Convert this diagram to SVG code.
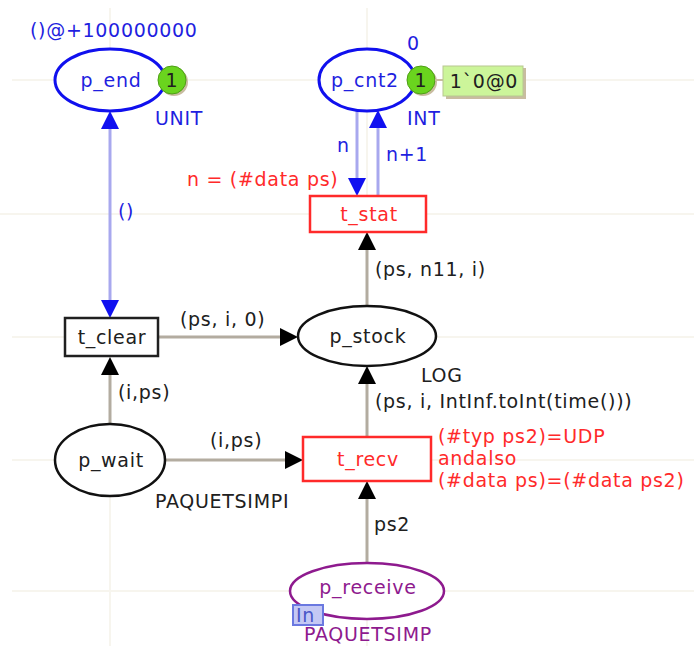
<svg xmlns="http://www.w3.org/2000/svg" width="694" height="646" viewBox="0 0 694 646">
<style>
text{font-family:"DejaVu Sans",Verdana,sans-serif;font-size:19px;letter-spacing:0.7px}
.blue{fill:#1f1fe0}
.red{fill:#ff2a2a}
.blk{fill:#202020}
.pur{fill:#8e1a8e}
.mid{text-anchor:middle}
.grid{stroke:#f7f5ee;stroke-width:2}
.arcb{stroke:#a8a8ee;stroke-width:3;fill:none}
.arcg{stroke:#b3aca0;stroke-width:3;fill:none}
.tok{fill:#6ad41e;stroke:#4e9e16;stroke-width:1}
.shadow{fill:#c9bca0}
</style>
<defs>
<marker id="ab" markerUnits="userSpaceOnUse" markerWidth="18" markerHeight="18" refX="8" refY="9" orient="auto-start-reverse" viewBox="0 0 18 18"><path d="M0,0 L18,9 L0,18 z" fill="#1010f0"/></marker>
<marker id="ak" markerUnits="userSpaceOnUse" markerWidth="18" markerHeight="18" refX="8" refY="9" orient="auto-start-reverse" viewBox="0 0 18 18"><path d="M0,0 L18,9 L0,18 z" fill="#000"/></marker>
</defs>
<rect width="694" height="646" fill="#fff"/>
<g id="grid">
<line class="grid" x1="12" y1="80" x2="694" y2="80"/>
<line class="grid" x1="0" y1="214" x2="694" y2="214"/>
<line class="grid" x1="12" y1="337" x2="694" y2="337"/>
<line class="grid" x1="12" y1="460" x2="694" y2="460"/>
<line class="grid" x1="12" y1="591" x2="694" y2="591"/>
<line class="grid" x1="110" y1="8" x2="110" y2="646"/>
<line class="grid" x1="367" y1="8" x2="367" y2="646"/>
</g>
<g id="connectors">
<line class="arcb" x1="110" y1="121" x2="110" y2="308" marker-start="url(#ab)" marker-end="url(#ab)"/>
<line class="arcb" x1="357" y1="110" x2="357" y2="186" marker-end="url(#ab)"/>
<line class="arcb" x1="378" y1="196" x2="378" y2="120" marker-end="url(#ab)"/>
<line class="arcg" x1="367" y1="306" x2="367" y2="242" marker-end="url(#ak)"/>
<line class="arcg" x1="158" y1="337" x2="288" y2="337" marker-end="url(#ak)"/>
<line class="arcg" x1="110" y1="424" x2="110" y2="367" marker-end="url(#ak)"/>
<line class="arcg" x1="166" y1="460" x2="293" y2="460" marker-end="url(#ak)"/>
<line class="arcg" x1="367" y1="437" x2="367" y2="376" marker-end="url(#ak)"/>
<line class="arcg" x1="367" y1="564" x2="367" y2="491" marker-end="url(#ak)"/>
<text class="blue" x="118" y="218">()</text>
<text class="blue" x="337" y="152">n</text>
<text class="blue" x="386" y="161">n+1</text>
<text class="blk" x="375" y="276">(ps, n11, i)</text>
<text class="blk" x="180" y="326">(ps, i, 0)</text>
<text class="blk" x="375" y="408">(ps, i, IntInf.toInt(time()))</text>
<text class="blk" x="118" y="399">(i,ps)</text>
<text class="blk" x="210" y="447">(i,ps)</text>
<text class="blk" x="374" y="531">ps2</text>
</g>
<g id="p_end">
<ellipse cx="110" cy="80" rx="55" ry="31" fill="#fff" stroke="#1010ee" stroke-width="3"/>
<text class="blue mid" x="111" y="87">p_end</text>
<text class="blue" x="30" y="37">()@+100000000</text>
<text class="blue" x="155" y="125">UNIT</text>
<circle class="shadow" cx="174" cy="82" r="14"/>
<circle class="tok" cx="172" cy="80" r="14"/>
<text class="blk mid" x="172" y="87">1</text>
</g>
<g id="p_cnt2">
<ellipse cx="367" cy="80" rx="48" ry="31" fill="#fff" stroke="#1010ee" stroke-width="3"/>
<text class="blue mid" x="365" y="87">p_cnt2</text>
<text class="blue" x="407" y="50">0</text>
<text class="blue" x="407" y="125">INT</text>
<circle class="shadow" cx="423" cy="82" r="14"/>
<circle class="tok" cx="421" cy="80" r="14"/>
<text class="blk mid" x="421" y="87">1</text>
<line x1="435" y1="80" x2="444" y2="80" stroke="#c9bca0" stroke-width="2"/>
<rect class="shadow" x="446" y="68" width="80" height="31"/>
<rect x="443" y="66" width="80" height="30" fill="#ccf59a" stroke="#b8c890" stroke-width="1"/>
<text class="blk mid" x="484" y="88">1`0@0</text>
</g>
<g id="t_stat">
<rect x="310" y="196" width="116" height="36" fill="#fff" stroke="#ff2a2a" stroke-width="2.5"/>
<text class="red mid" x="369" y="221">t_stat</text>
<text class="red" x="187" y="186">n = (#data ps)</text>
</g>
<g id="t_clear">
<rect x="65" y="318" width="93" height="38" fill="#fff" stroke="#202020" stroke-width="2.5"/>
<text class="blk mid" x="112" y="344">t_clear</text>
</g>
<g id="p_stock">
<ellipse cx="367" cy="336" rx="69" ry="30" fill="#fff" stroke="#111" stroke-width="2.5"/>
<text class="blk mid" x="368" y="343">p_stock</text>
<text class="blk" x="421" y="382">LOG</text>
</g>
<g id="p_wait">
<ellipse cx="110" cy="460" rx="55" ry="36" fill="#fff" stroke="#111" stroke-width="2.5"/>
<text class="blk mid" x="111" y="467">p_wait</text>
<text class="blk" x="155" y="508">PAQUETSIMPI</text>
</g>
<g id="t_recv">
<rect x="303" y="437" width="128" height="44" fill="#fff" stroke="#ff2a2a" stroke-width="2.5"/>
<text class="red mid" x="368" y="466">t_recv</text>
<text class="red" x="438" y="443">(#typ ps2)=UDP</text>
<text class="red" x="438" y="465">andalso</text>
<text class="red" x="438" y="487">(#data ps)=(#data ps2)</text>
</g>
<g id="p_receive">
<ellipse cx="367" cy="591" rx="77" ry="28" fill="#fff" stroke="#8e1a8e" stroke-width="2.5"/>
<text class="pur mid" x="368" y="594">p_receive</text>
<rect x="293" y="605" width="30" height="20" fill="#c4c8f4" stroke="#6a78e0" stroke-width="2"/>
<text x="296" y="622" fill="#4a58c8">In</text>
<text class="pur" x="304" y="641">PAQUETSIMP</text>
</g>
</svg>
